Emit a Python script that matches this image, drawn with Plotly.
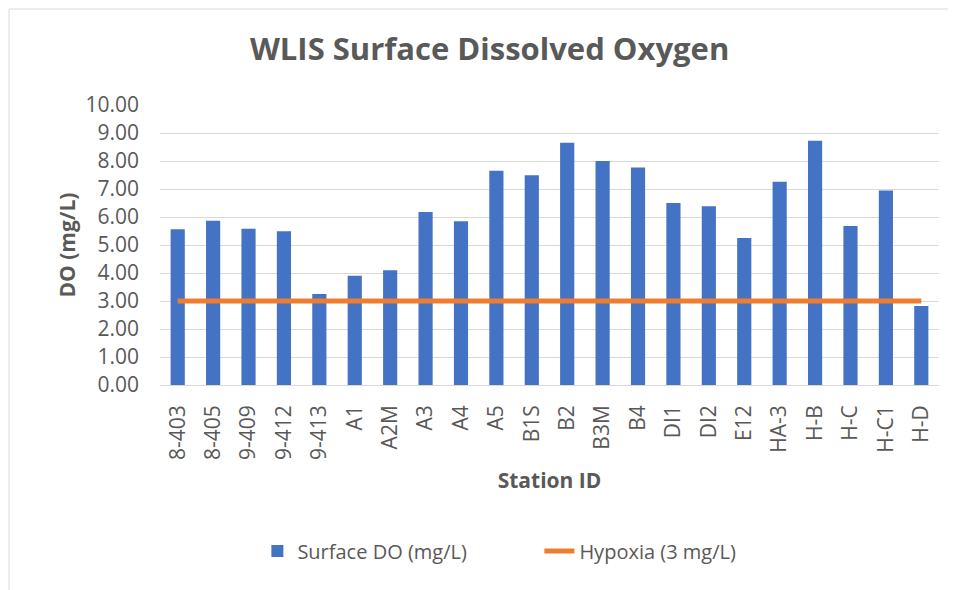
import plotly.graph_objects as go

stations = ["8-403", "8-405", "9-409", "9-412", "9-413", "A1", "A2M", "A3", "A4", "A5",
            "B1S", "B2", "B3M", "B4", "DI1", "DI2", "E12", "HA-3", "H-B", "H-C", "H-C1", "H-D"]
surface_do = [5.56, 5.87, 5.58, 5.49, 3.25, 3.90, 4.10, 6.18, 5.85, 7.65,
              7.49, 8.65, 8.00, 7.77, 6.50, 6.38, 5.25, 7.26, 8.72, 5.68, 6.95, 2.82]
hypoxia = [3] * len(stations)

GRAY = "#595959"
FONT = "Open Sans"

# page has an 8px body margin, so the figure is 948x582 and offsets are shifted by 8px
W, H = 948, 582
L, T, R, B = 152, 97, 17, 205
PW = W - L - R
PH = H - T - B

fig = go.Figure()
fig.add_trace(go.Bar(x=stations, y=surface_do, name="Surface DO (mg/L)",
                     marker=dict(color="#4472C4", line=dict(width=0))))
fig.add_trace(go.Scatter(x=stations, y=hypoxia, name="Hypoxia (3 mg/L)", mode="lines",
                         line=dict(color="#ED7D31", width=5)))

fig.update_layout(
    width=W, height=H,
    paper_bgcolor="white", plot_bgcolor="white",
    margin=dict(l=L, r=R, t=T, b=B),
    font=dict(family=FONT, color=GRAY, size=20),
    bargap=0.6,
    title=dict(text="<b>WLIS Surface Dissolved Oxygen</b>", x=0.508, xanchor="center",
               y=0.93, yanchor="middle", font=dict(size=31, color=GRAY, family=FONT)),
    showlegend=True,
    legend=dict(orientation="h", x=0.125, xanchor="left", y=-0.593, yanchor="middle",
                entrywidth=237, entrywidthmode="pixels",
                font=dict(size=20, color=GRAY), traceorder="normal"),
    xaxis=dict(tickangle=-90, showgrid=False, showline=False, ticks="", ticklabelstandoff=15,
               title=dict(text="<b>Station ID</b>", font=dict(size=21, color=GRAY), standoff=14),
               tickfont=dict(size=21, color=GRAY)),
    yaxis=dict(range=[0, 10], dtick=1, tickformat=".2f", showgrid=True, gridcolor="#D9D9D9",
               gridwidth=1, zeroline=True, zerolinecolor="#D9D9D9", zerolinewidth=1,
               ticks="", ticklabelstandoff=20,
               title=dict(text="<b>DO (mg/L)</b>", font=dict(size=21, color=GRAY), standoff=4),
               tickfont=dict(size=21, color=GRAY)),
    shapes=[dict(type="rect", xref="paper", yref="paper",
                 x0=(1 - L) / PW, x1=(W + 20 - L) / PW,
                 y0=-(B + 20) / PH, y1=1 + (T - 1) / PH,
                 line=dict(color="#D9D9D9", width=1), fillcolor="rgba(0,0,0,0)", layer="below")],
)

fig.write_html("out.html")
